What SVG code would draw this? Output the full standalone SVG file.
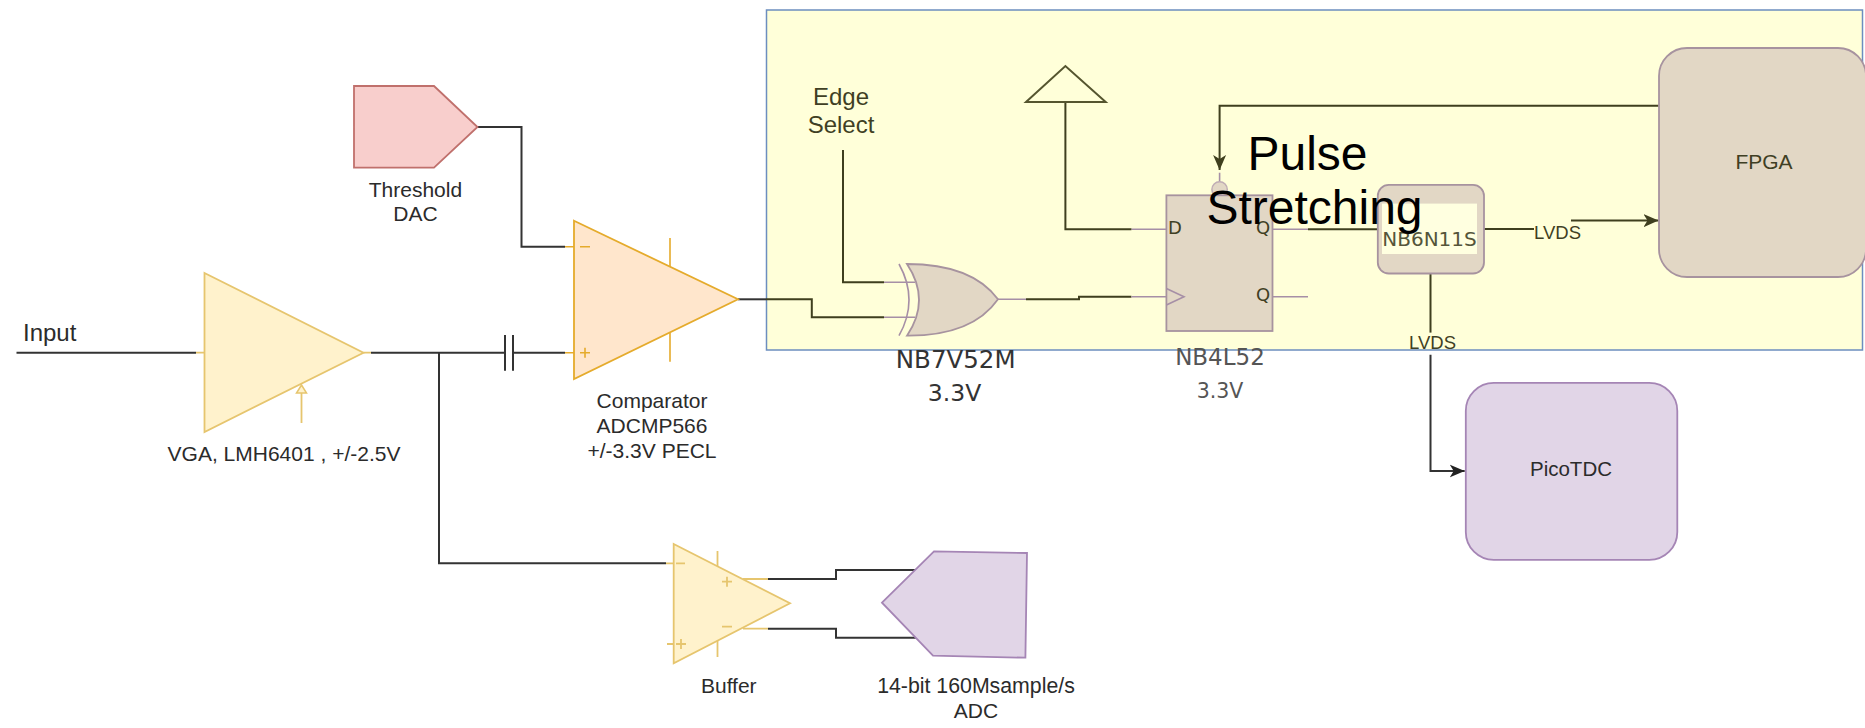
<svg xmlns="http://www.w3.org/2000/svg" width="1865" height="728" viewBox="0 0 1865 728">
<style>
text{font-family:"Liberation Sans",Arial,sans-serif;font-size:21px;fill:#2b2b2b;text-anchor:middle}
.dv{font-family:"DejaVu Sans",sans-serif}
.in{fill:#3f3f24}
.k{fill:none;stroke:#333;stroke-width:2}
.o{fill:none;stroke:#3f3f1e;stroke-width:2}
.p{fill:none;stroke:#a68fa6;stroke-width:1.6}
.y{fill:none;stroke:#e6c56e;stroke-width:1.8}
.a{fill:none;stroke:#e5ab2c;stroke-width:1.6}
.tan{fill:#e2d7c5;stroke:#a7939f;stroke-width:1.8}
.lil{fill:#e1d5e7;stroke:#a585b5;stroke-width:1.8}
.buf{fill:#fff2cc;stroke:#e6c56e;stroke-width:1.8}
</style>
<defs>
<marker id="ao" markerUnits="userSpaceOnUse" markerWidth="16" markerHeight="14" refX="15" refY="7" orient="auto"><path d="M0,0.5L15,7L0,13.5L4,7z" fill="#3f3f1e"/></marker>
<marker id="ak" markerUnits="userSpaceOnUse" markerWidth="16" markerHeight="14" refX="15" refY="7" orient="auto"><path d="M0,0.5L15,7L0,13.5L4,7z" fill="#222"/></marker>
</defs>

<g id="pulse-region"><rect x="766.5" y="10" width="1096" height="340" fill="#ffffd9" stroke="#6c8ebf" stroke-width="1.5"/></g>

<g id="connectors">
<path class="k" d="M16.5,352.7H196"/>
<path class="y" d="M196,352.7H204.5M363.5,352.7H371"/>
<path class="k" d="M371,352.7H505M513,352.7H565"/>
<path class="k" d="M505,335V370.7M513,335V370.7"/>
<path class="k" d="M439,352.7V563.3H666"/>
<path class="k" d="M477,127H521.5V246.7H565"/>
<path class="k" d="M738,299.3H766"/>
<path class="o" d="M766,299.3H811.8V317.3H884"/>
<path class="o" d="M843,150V282.3H884"/>
<path class="p" d="M884,282.3H915M884,317.3H915M998,299.3H1026"/>
<path class="o" d="M1026,299.3H1079V296.7H1131.4"/>
<path class="p" d="M1131.4,296.7H1166.4M1131.4,229.3H1166.4M1272.5,229.3H1308M1272.5,296.7H1308"/>
<path class="o" d="M1065.4,102V229.3H1131.4"/>
<path class="o" d="M1659,105.7H1219.6V170" marker-end="url(#ao)"/>
<path class="p" d="M1219.6,172.7V182"/>
<path class="o" d="M1308,229.3H1378"/>
<path class="o" d="M1484,229H1534"/>
<path class="o" d="M1571,220.6H1658.5" marker-end="url(#ao)"/>
<path class="o" d="M1430.5,273.5V332.6"/>
<path class="k" d="M1430.5,354.8V471H1464.7" marker-end="url(#ak)"/>
<path class="y" d="M743,579H768M743,628.7H768M666,563.3H673.7M667,644H676"/>
<path class="k" d="M768,579H836V570H916.5M768,628.7H836V637.7H916.5"/>
</g>

<g id="dac"><path d="M354,86H434L477.5,127L434,167.7H354Z" fill="#f8cecc" stroke="#c0706c" stroke-width="1.8"/>
<text x="415.4" y="196.7">Threshold</text><text x="415.4" y="221">DAC</text></g>

<g id="input-label"><text x="23" y="341" style="font-size:24px;text-anchor:start">Input</text></g>

<g id="vga"><path class="y" d="M301.5,423V393"/>
<path class="buf" d="M204.5,273L363.5,352.7L204.5,432Z"/>
<path d="M301.5,385L306.5,393H296.5Z" fill="#fff2cc" stroke="#e6c56e" stroke-width="1.5"/>
<text x="284" y="461">VGA, LMH6401 , +/-2.5V</text></g>

<g id="comparator"><path class="a" d="M565,246.7H574M565,352.7H574M670,238V267M670,332.7V361.7"/>
<path d="M574,220.7L738,299.3L574,379Z" fill="#ffe6cc" stroke="#e5ab2c" stroke-width="1.8"/>
<path class="a" d="M580,246.7H590M580,352.7H590M585,347.7V357.7"/>
<text x="652" y="408">Comparator</text><text x="652" y="433">ADCMP566</text><text x="652" y="458">+/-3.3V PECL</text></g>

<g id="edge-select"><text class="in" x="841" y="105" style="font-size:24px">Edge</text><text class="in" x="841" y="132.7" style="font-size:24px">Select</text></g>

<g id="xor"><path class="p" d="M899,264Q919,300 899,335.7"/>
<path d="M907,264C950,264 980,275 998,299.3C980,325 950,336 907,335.7Q931,300 907,264Z" class="tan"/>
<text class="dv" x="955.7" y="368.3" style="font-size:24.5px;fill:#333">NB7V52M</text><text class="dv" x="954.5" y="400.7" style="font-size:23.5px;fill:#333">3.3V</text></g>

<g id="vcc"><path d="M1026,102L1065.4,66L1105.7,102Z" fill="none" stroke="#55552f" stroke-width="2"/></g>

<g id="flipflop"><circle cx="1219.6" cy="189.5" r="7.7" fill="#e2d7c5" stroke="#c0adb5" stroke-width="1.5"/>
<rect class="tan" x="1166.4" y="195.3" width="106.1" height="135.7"/>
<path class="p" d="M1166.4,288.5L1184,296.7L1166.4,305"/>
<text class="dv in" x="1175" y="233.5" style="font-size:18px">D</text>
<text class="dv in" x="1263" y="234" style="font-size:18px">Q</text>
<text class="dv in" x="1263" y="301" style="font-size:18px">Q</text>
<text class="dv" x="1220" y="364.5" style="font-size:23px;fill:#555">NB4L52</text><text class="dv" x="1220" y="397.5" style="font-size:20.5px;fill:#555">3.3V</text></g>

<g id="nb6n11s"><rect class="tan" x="1377.8" y="184.8" width="106.2" height="88.7" rx="11"/>
<rect x="1382" y="203.6" width="95" height="50.4" fill="#ffffe0"/>
<text class="dv in" x="1429.5" y="245.7" style="font-size:20px;fill:#55553a">NB6N11S</text></g>

<g id="fpga"><rect class="tan" x="1659" y="48" width="207" height="229" rx="28"/><text class="in" x="1764" y="168.5">FPGA</text></g>

<g id="lvds-labels"><text class="in" x="1557.5" y="239" style="font-size:18.5px">LVDS</text><text class="in" x="1432.6" y="349" style="font-size:18.5px">LVDS</text></g>

<g id="picotdc"><rect class="lil" x="1465.8" y="382.9" width="211.5" height="177" rx="28"/><text x="1571" y="476" style="font-size:20.5px">PicoTDC</text></g>

<g id="buffer"><path class="y" d="M717.5,551V567M717.5,641V657"/>
<path class="buf" d="M673.7,544L790,603.3L673.7,663.3Z"/>
<path class="y" d="M676,563.3H685M676,644H686M681,639V649M722,581.7H732M727,576.7V586.7M722,626.7H732"/>
<text x="728.8" y="692.7">Buffer</text></g>

<g id="adc"><path class="lil" d="M882,602.7L934,551.3L1027,553L1025.4,657.7L933,655.7Z"/>
<text x="976" y="693" style="font-size:21.3px">14-bit 160Msample/s</text><text x="976" y="718">ADC</text></g>

<g id="title"><text x="1307.5" y="170" style="font-size:48px;fill:#000">Pulse</text><text x="1314.5" y="224" style="font-size:48px;fill:#000">Stretching</text></g>
</svg>
